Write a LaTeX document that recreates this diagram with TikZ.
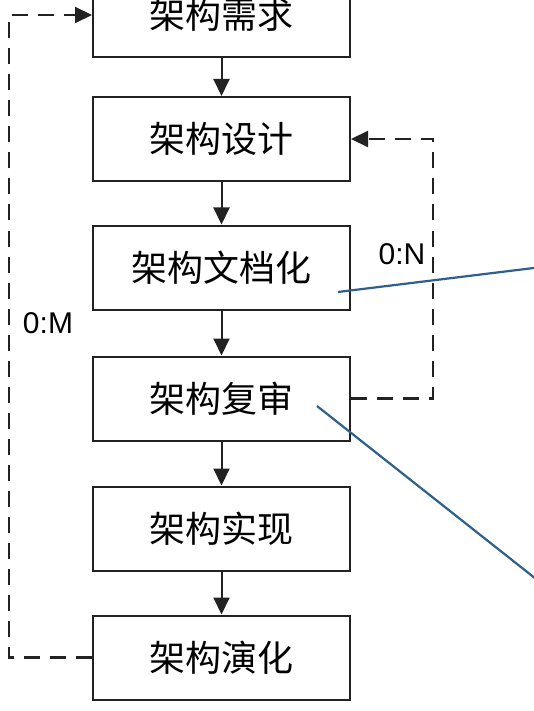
\documentclass[tikz,border=0pt]{standalone}
\usepackage{fontspec}
\newfontfamily\cjkfont{Noto Sans CJK SC}
\newfontfamily\latinfont{Liberation Sans}
\usetikzlibrary{arrows.meta}
\definecolor{boxline}{HTML}{222222}
\definecolor{bluel}{HTML}{2F5F8C}
\begin{document}
\begin{tikzpicture}[x=1pt,y=-1pt,
  stage/.style={draw=boxline,line width=2pt,minimum width=257pt,minimum height=84pt,inner sep=0pt,
    font=\cjkfont\fontsize{36}{40}\selectfont},
  arr/.style={draw=boxline,line width=2pt,-{Triangle[length=17pt,width=16pt]}},
  loop/.style={draw=boxline,line width=2.2pt,dash pattern=on 16pt off 10pt},
  loopa/.style={loop,-{Triangle[length=17pt,width=16pt]}},
  lbl/.style={font=\latinfont\fontsize{30}{34}\selectfont,inner sep=0pt},
  blue/.style={draw=bluel,line width=2.2pt}]
\useasboundingbox (0,0) rectangle (533,711);
\fill[white] (0,0) rectangle (533,711);
\node[stage] (b1) at (221.5,15) {架构需求};
\node[stage] (b2) at (221.5,139) {架构设计};
\node[stage] (b3) at (221.5,267.5) {架构文档化};
\node[stage] (b4) at (221.5,398.5) {架构复审};
\node[stage] (b5) at (221.5,528.5) {架构实现};
\node[stage] (b6) at (221.5,657.5) {架构演化};
\draw[arr] (b1) -- (b2);
\draw[arr] (b2) -- (b3);
\draw[arr] (b3) -- (b4);
\draw[arr] (b4) -- (b5);
\draw[arr] (b5) -- (b6);
\coordinate (lc) at (9,657.5);
\coordinate (rc) at (433,398.5);
\draw[loopa] (b6.west) -- (lc) |- (b1.west);
\draw[loopa] (b4.east) -- (rc) |- (b2.east);
\node[lbl] (m) at (48,323) {0:M};
\node[lbl] (n) at (402,254) {0:N};
\coordinate (s1) at (338,292);
\coordinate (e1) at (550,266);
\coordinate (s2) at (317,406);
\coordinate (e2) at (550,590);
\draw[blue] (s1) -- (e1);
\draw[blue] (s2) -- (e2);
\end{tikzpicture}
\end{document}
